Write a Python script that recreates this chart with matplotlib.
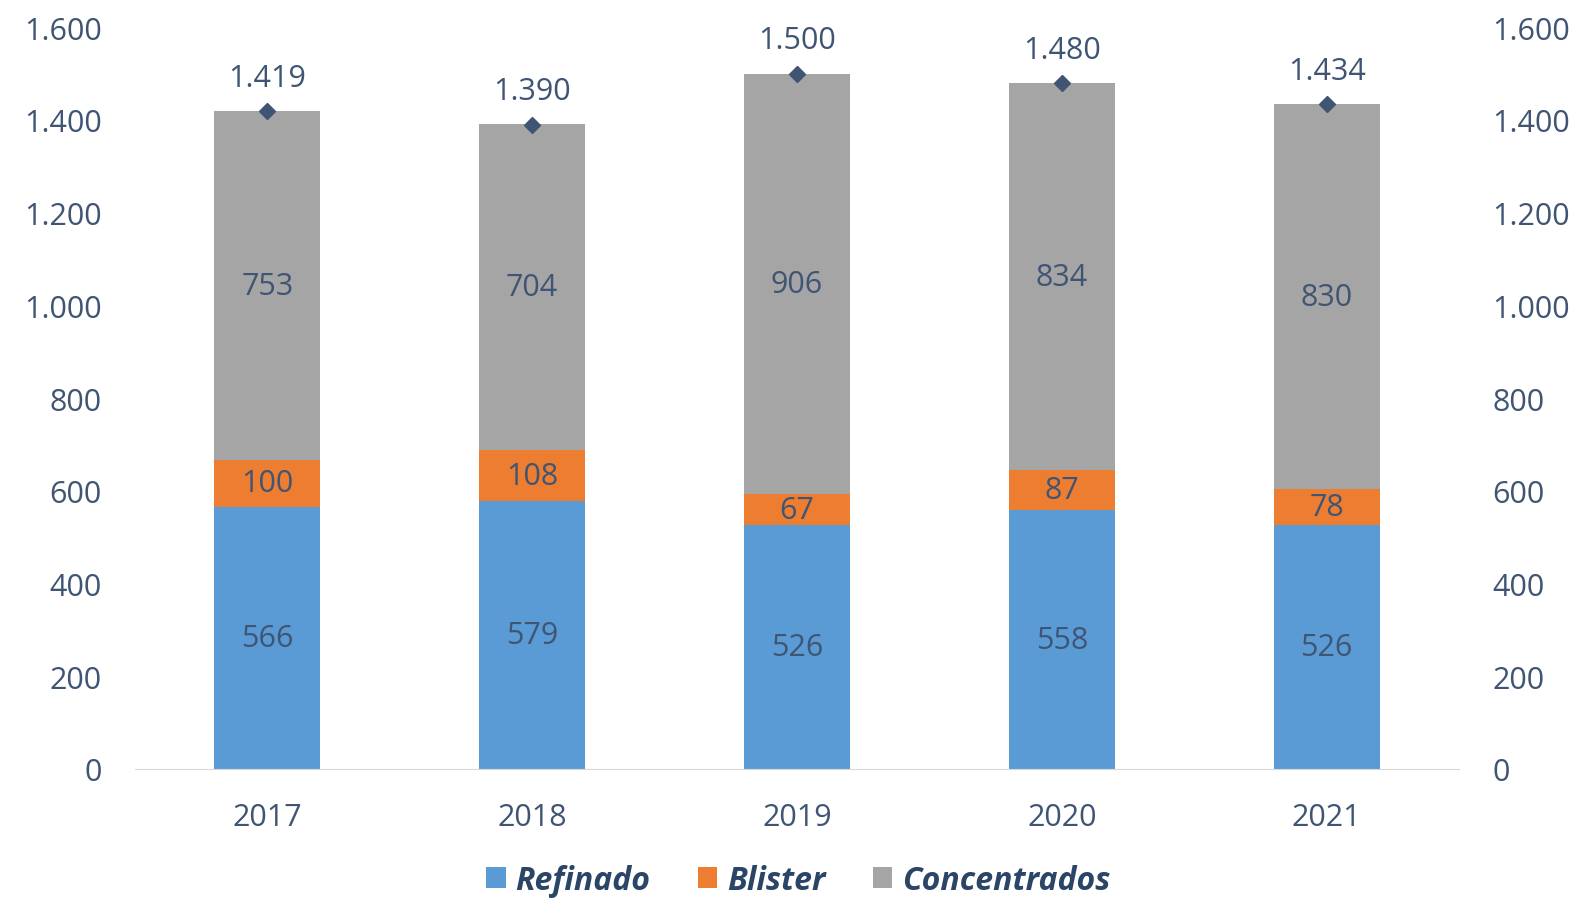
import numpy as np
from matplotlib import pyplot as plt

years = ['2017', '2018', '2019', '2020', '2021']
refinado = [566, 579, 526, 558, 526]
blister = [100, 108, 67, 87, 78]
concentrados = [753, 704, 906, 834, 830]
totales = [1419, 1390, 1500, 1480, 1434]
yticks = [0, 200, 400, 600, 800, 1000, 1200, 1400, 1600]

txt = '#3F5573'
plt.rcParams['font.family'] = ['Open Sans', 'DejaVu Sans']

fig = plt.figure(figsize=(15.81, 9.03), dpi=100)
ax = fig.add_axes([0.0854, 0.1473, 0.8375, 0.8215])

x = np.arange(len(years))
w = 0.40
ref = np.array(refinado)
bli = np.array(blister)
con = np.array(concentrados)

ax.bar(x, ref, w, color='#5B9BD5', label='Refinado')
ax.bar(x, bli, w, bottom=ref, color='#ED7D31', label='Blister')
ax.bar(x, con, w, bottom=ref + bli, color='#A5A5A5', label='Concentrados')

fs = 22
for i in range(len(x)):
    ax.text(x[i], ref[i] / 2, str(ref[i]), ha='center', va='center', fontsize=fs, color=txt)
    ax.text(x[i], ref[i] + bli[i] / 2, str(bli[i]), ha='center', va='center', fontsize=fs, color=txt)
    ax.text(x[i], ref[i] + bli[i] + con[i] / 2, str(con[i]), ha='center', va='center', fontsize=fs, color=txt)

ax.plot(x, totales, linestyle='none', marker='D', markersize=8, color=txt)
for i in range(len(x)):
    lab = f'{totales[i]:,}'.replace(',', '.')
    ax.annotate(lab, (x[i], totales[i]), xytext=(0, 13), textcoords='offset points',
                ha='center', va='bottom', fontsize=fs, color=txt)

ax.set_xlim(-0.5, len(x) - 0.5)
ax.set_ylim(0, 1600)
ax.set_yticks(yticks)
ylabs = [f'{v:,}'.replace(',', '.') for v in yticks]
ax.set_yticklabels(ylabs)
ax.set_xticks(x)
ax.set_xticklabels(years)
ax.tick_params(axis='both', length=0, labelsize=fs, labelcolor=txt)
ax.tick_params(axis='x', pad=24)
ax.tick_params(axis='y', pad=24)
for s in ['top', 'right', 'left']:
    ax.spines[s].set_visible(False)
ax.spines['bottom'].set_color('#D9D9D9')

ax2 = ax.twinx()
ax2.set_ylim(0, 1600)
ax2.set_yticks(yticks)
ax2.set_yticklabels(ylabs)
ax2.tick_params(axis='y', length=0, labelsize=fs, labelcolor=txt, pad=24)
for s in ax2.spines.values():
    s.set_visible(False)

leg = fig.legend(loc='lower center', bbox_to_anchor=(0.505, -0.026), ncol=3, frameon=False,
                 handlelength=0.6, handleheight=0.6, handletextpad=0.3, columnspacing=1.5,
                 prop={'size': 23, 'style': 'italic', 'weight': 'bold'})
for t in leg.get_texts():
    t.set_color('#2A4566')

fig.savefig('out.png', dpi=100)
